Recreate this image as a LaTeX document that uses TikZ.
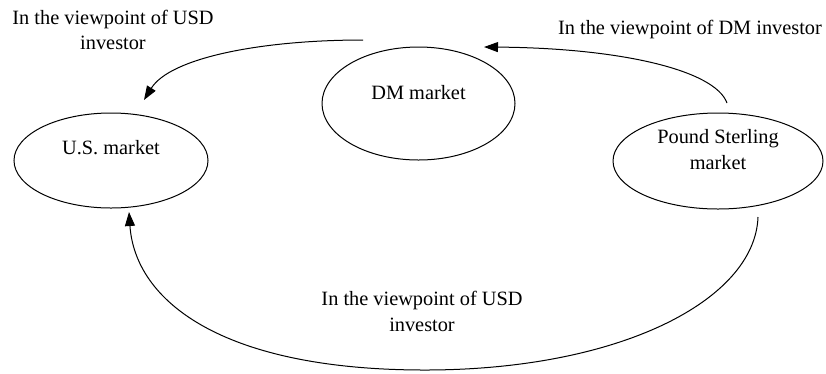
\documentclass[tikz,border=0pt]{standalone}
\usepackage{fontspec}
\setmainfont{Liberation Serif}
\usetikzlibrary{shapes.geometric,arrows.meta}

\begin{document}
\begin{tikzpicture}[
        x=0.6pt, y=-0.6pt,
        every node/.style={align=center, font=\fontsize{12.2}{15.5}\selectfont},
        market/.style={ellipse, draw, inner sep=0pt, line width=0.6pt},
        flow/.style={line width=0.6pt, -{Triangle[length=8.4pt,width=6pt]}},
    ]
    \useasboundingbox (0,0) rectangle (826,373);
    % the three markets
    \node[market, minimum width=116.4pt, minimum height=57pt,
          label={[yshift=7.5pt]center:U.S. market}] (us) at (111,160.5) {};
    \node[market, minimum width=115.8pt, minimum height=67.8pt,
          label={[yshift=6.3pt]center:DM market}] (dm) at (418.5,103.5) {};
    \node[market, minimum width=126pt, minimum height=57.6pt,
          label={[yshift=6.9pt]center:Pound Sterling\\market}] (pound) at (718,161) {};

    % loose ends of the arrows
    \coordinate (dmLeft) at (363,40);
    \coordinate (usTop) at (144,100);
    \coordinate (poundTop) at (727,103);
    \coordinate (dmRight) at (484,47);
    \coordinate (poundLow) at (758,217);
    \coordinate (usLow) at (129,212);

    \draw[flow] (dmLeft) .. controls (260,40) and (170,58) .. (usTop);
    \draw[flow] (poundTop) .. controls (715,70) and (620,48) .. (dmRight);
    \draw[flow] (poundLow) .. controls (755,300) and (620,370) .. (425,370)
                           .. controls (220,370) and (135,300) .. (usLow);

    % viewpoints
    \node (usdView) at (113,30) {In the viewpoint of USD\\investor};
    \node (dmView) at (690,29) {In the viewpoint of DM investor};
    \node (usdViewLow) at (422,311.5) {In the viewpoint of USD\\investor};
\end{tikzpicture}
\end{document}
